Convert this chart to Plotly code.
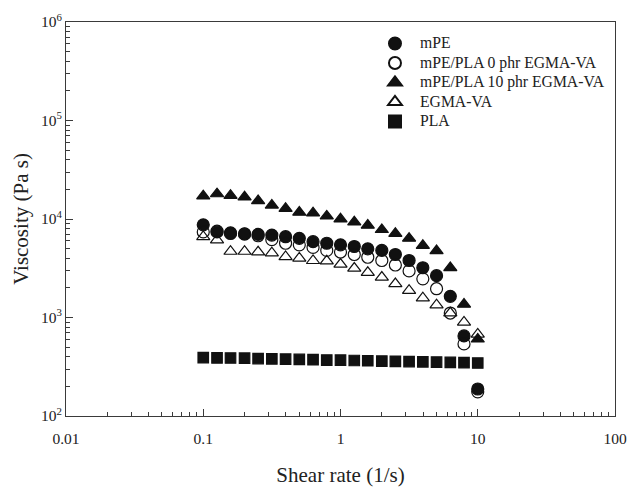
import numpy as np
import plotly.graph_objects as go

shear_rate = [0.1, 0.126, 0.158, 0.2, 0.251, 0.316, 0.398, 0.501, 0.631, 0.794,
              1.0, 1.26, 1.58, 2.0, 2.51, 3.16, 3.98, 5.01, 6.31, 7.94, 10.0]

mpe = [8720, 7390, 7220, 7060, 6970, 6870, 6610, 6360, 5890, 5670,
       5470, 5260, 4980, 4800, 4360, 3790, 3200, 2660, 1640, 650, 188]
blend0 = [7400, 7520, 7130, 7040, 6760, 6170, 5670, 5470, 5150, 4800,
          4620, 4360, 4090, 3790, 3410, 2970, 2470, 1960, 1110, 539, 176]
blend10 = [17100, 18000, 17350, 16700, 15300, 13800, 12800, 11700, 11500, 10700,
           10000, 9300, 8630, 7800, 7130, 6360, 5380, 4760, 3200, 1360, 603]
egma = [6610, 6130, 4690, 4690, 4620, 4520, 4140, 4000, 3780, 3740,
        3470, 3160, 2860, 2560, 2200, 1880, 1580, 1340, 1110, 896, 676]
pla = [391, 389, 388, 386, 383, 380, 378, 375, 373, 370,
       369, 366, 364, 361, 359, 357, 355, 353, 350, 348, 345]

series = [
    ("mPE", mpe, "circle", 12),
    ("mPE/PLA 0 phr EGMA-VA", blend0, "circle-open", 12),
    ("mPE/PLA 10 phr EGMA-VA", blend10, "triangle-up", 11.5),
    ("EGMA-VA", egma, "triangle-up-open", 11.5),
    ("PLA", pla, "square", 10.5),
]

x_ticks = [0.01, 0.1, 1, 10, 100]
x_ticktext = ["0.01", "0.1", "1", "10", "100"]
y_ticks = [1e2, 1e3, 1e4, 1e5, 1e6]
y_ticktext = ["10<sup>2</sup>", "10<sup>3</sup>", "10<sup>4</sup>", "10<sup>5</sup>", "10<sup>6</sup>"]

FONT = "Liberation Serif"
INK = "#222222"
LEGEND_TEXT_PX = 15.7

fig = go.Figure()
for name, vals, sym, size in series:
    fig.add_trace(go.Scatter(
        x=shear_rate, y=vals, mode="markers",
        name=f'<span style="font-size:{LEGEND_TEXT_PX}px">{name}</span>',
        marker=dict(symbol=sym, size=size, color="#111111",
                    line=dict(color="#111111", width=1.2)),
    ))

minor_x = [m * 10.0 ** e for e in range(-2, 2) for m in range(2, 10)]
minor_y = [m * 10.0 ** e for e in range(2, 6) for m in range(2, 10)]

axis_common = dict(
    showgrid=False, zeroline=False, showline=True, linecolor="#3a3a3a",
    linewidth=1, mirror=True, ticks="inside", ticklen=7, tickcolor="#3a3a3a",
    tickfont=dict(family=FONT, size=15.5, color=INK), automargin=False,
)

fig.update_xaxes(
    type="log", range=[-2, 2], tickmode="array", tickvals=x_ticks, ticktext=x_ticktext,
    ticklabelstandoff=8,
    title=dict(text="Shear rate (1/s)", font=dict(family=FONT, size=21, color=INK), standoff=21),
    minor=dict(tickmode="array", tickvals=minor_x, ticks="inside", ticklen=4, tickcolor="#3a3a3a", showgrid=False),
    **axis_common,
)
fig.update_yaxes(
    type="log", range=[2, 6], tickmode="array", tickvals=y_ticks, ticktext=y_ticktext,
    title=dict(text="Viscosity (Pa s)", font=dict(family=FONT, size=21, color=INK), standoff=6),
    minor=dict(tickmode="array", tickvals=minor_y, ticks="inside", ticklen=4, tickcolor="#3a3a3a", showgrid=False),
    **axis_common,
)

fig.update_layout(
    width=640, height=487,
    margin=dict(l=58, r=33, t=14, b=79),
    plot_bgcolor="white", paper_bgcolor="white",
    font=dict(family=FONT, color=INK),
    legend=dict(x=0.5537, y=0.983, xanchor="left", yanchor="top",
                bgcolor="rgba(0,0,0,0)", borderwidth=0,
                font=dict(family=FONT, size=12.7, color=INK),
                itemsizing="constant", itemwidth=40, tracegroupgap=0),
    showlegend=True,
)

fig.write_html("out.html")
